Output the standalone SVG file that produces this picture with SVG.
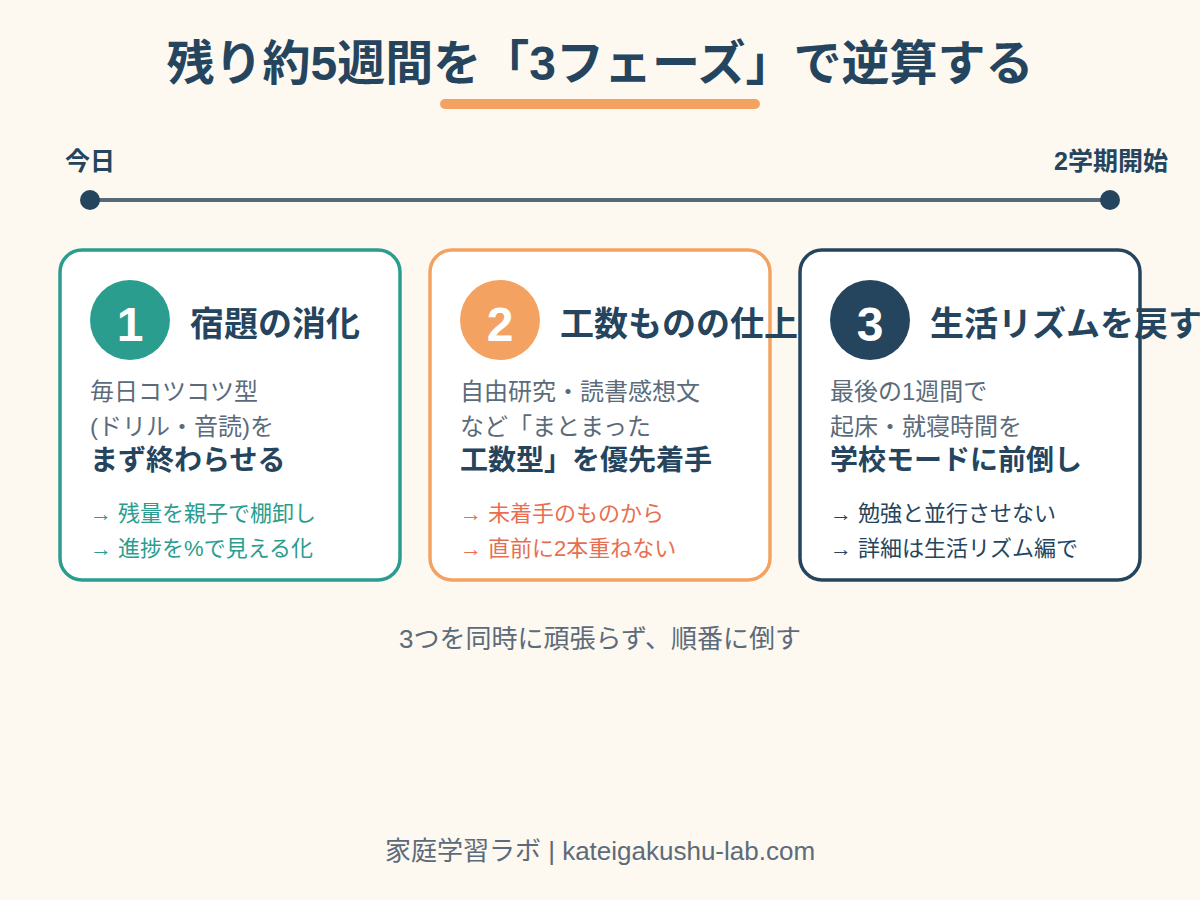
<svg xmlns="http://www.w3.org/2000/svg" width="1200" height="900" viewBox="0 0 1200 900">
<style>
text{font-family:"Liberation Sans","Noto Sans CJK JP",sans-serif}
.title{font-size:48px;font-weight:bold;fill:#25455E}
.lbl{font-size:25px;font-weight:bold;fill:#25455E}
.card{fill:#ffffff;stroke-width:3.5}
.num{font-size:48px;font-weight:bold;fill:#ffffff}
.ct{font-size:34px;font-weight:bold;fill:#25455E}
.body{font-size:24px;fill:#5C6B7A}
.strong{font-size:28px;font-weight:bold;fill:#25455E}
.pt{font-size:22px}
.sub{font-size:26px;fill:#5C6B7A}
.foot{font-size:26px;fill:#5C6B7A}
</style>
<rect width="1200" height="900" fill="#FDF8F0"/>
<g id="title">
<text class="title" x="600" y="80" text-anchor="middle">残り約5週間を「3フェーズ」で逆算する</text>
<rect x="440" y="99" width="320" height="10" rx="5" fill="#F4A261"/>
</g>
<g id="timeline">
<line x1="90" y1="200" x2="1110" y2="200" stroke="#566978" stroke-width="4"/>
<circle cx="90" cy="200" r="10" fill="#25455E"/>
<circle cx="1110" cy="200" r="10" fill="#25455E"/>
<text class="lbl" x="65" y="170">今日</text>
<text class="lbl" x="1168" y="170" text-anchor="end">2学期開始</text>
</g>
<g id="phase1">
<rect class="card" x="60" y="250" width="340" height="330" rx="22" stroke="#2A9D8F"/>
<circle cx="130" cy="320" r="40" fill="#2A9D8F"/>
<text class="num" x="130" y="341" text-anchor="middle">1</text>
<text class="ct" x="190" y="336">宿題の消化</text>
<text class="body" x="90" y="400">毎日コツコツ型</text>
<text class="body" x="90" y="435">(ドリル・音読)を</text>
<text class="strong" x="90" y="470">まず終わらせる</text>
<text class="pt" x="90" y="521" fill="#2A9D8F">→ 残量を親子で棚卸し</text>
<text class="pt" x="90" y="556" fill="#2A9D8F">→ 進捗を%で見える化</text>
</g>
<g id="phase2">
<rect class="card" x="430" y="250" width="340" height="330" rx="22" stroke="#F4A261"/>
<circle cx="500" cy="320" r="40" fill="#F4A261"/>
<text class="num" x="500" y="341" text-anchor="middle">2</text>
<text class="ct" x="560" y="336">工数ものの仕上</text>
<text class="body" x="460" y="400">自由研究・読書感想文</text>
<text class="body" x="460" y="435">など「まとまった</text>
<text class="strong" x="460" y="470">工数型」を優先着手</text>
<text class="pt" x="460" y="521" fill="#E76F51">→ 未着手のものから</text>
<text class="pt" x="460" y="556" fill="#E76F51">→ 直前に2本重ねない</text>
</g>
<g id="phase3">
<rect class="card" x="800" y="250" width="340" height="330" rx="22" stroke="#25455E"/>
<circle cx="870" cy="320" r="40" fill="#25455E"/>
<text class="num" x="870" y="341" text-anchor="middle">3</text>
<text class="ct" x="930" y="336">生活リズムを戻す</text>
<text class="body" x="830" y="400">最後の1週間で</text>
<text class="body" x="830" y="435">起床・就寝時間を</text>
<text class="strong" x="830" y="470">学校モードに前倒し</text>
<text class="pt" x="830" y="521" fill="#25455E">→ 勉強と並行させない</text>
<text class="pt" x="830" y="556" fill="#25455E">→ 詳細は生活リズム編で</text>
</g>
<g id="connectors"></g>
<text class="sub" x="600" y="648" text-anchor="middle">3つを同時に頑張らず、順番に倒す</text>
<text class="foot" x="600" y="860" text-anchor="middle">家庭学習ラボ | kateigakushu-lab.com</text>
</svg>
